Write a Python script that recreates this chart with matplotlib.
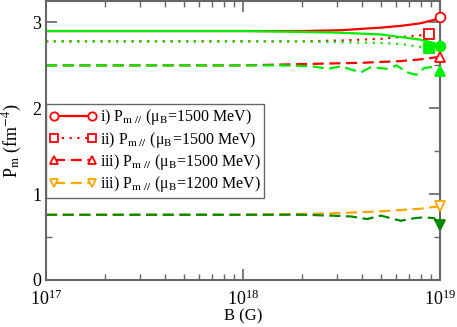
import numpy as np
import matplotlib
matplotlib.use('Agg')
import matplotlib.pyplot as plt

plt.rcParams['font.family'] = ['Liberation Serif', 'DejaVu Serif']
plt.rcParams['mathtext.fontset'] = 'stix'

# log10(B) sample points and P_m values
lb_smooth = [17.0, 17.5, 18.0, 18.3, 18.5, 18.7, 18.8, 18.9, 18.97, 19.0]
p_i_15 = [2.90, 2.90, 2.90, 2.90, 2.91, 2.94, 2.96, 2.99, 3.03, 3.06]
p_i_15g = [2.90, 2.90, 2.90, 2.89, 2.88, 2.86, 2.83, 2.80, 2.76, 2.73]

lb_ii = [17.0, 17.5, 18.0, 18.3, 18.5, 18.7, 18.8, 18.944]
p_ii_15 = [2.78, 2.78, 2.78, 2.78, 2.79, 2.81, 2.83, 2.86]
p_ii_15g = [2.78, 2.78, 2.78, 2.78, 2.77, 2.76, 2.75, 2.70]

lb_iii = [17.0, 17.5, 18.0, 18.2, 18.4, 18.6, 18.8, 18.9, 19.0]
p_iii_15 = [2.50, 2.50, 2.50, 2.51, 2.52, 2.53, 2.55, 2.57, 2.60]
lb_iii_g = [17.0, 17.5, 18.0, 18.2, 18.35, 18.43, 18.5, 18.55, 18.6, 18.65,
            18.73, 18.78, 18.83, 18.88, 18.92, 18.96, 19.0]
p_iii_15g = [2.50, 2.50, 2.50, 2.50, 2.49, 2.46, 2.49, 2.45, 2.42, 2.48,
             2.46, 2.50, 2.42, 2.39, 2.47, 2.48, 2.43]

lb_12 = [17.0, 17.5, 18.0, 18.3, 18.5, 18.7, 18.9, 19.0]
p_iii_12 = [0.76, 0.76, 0.76, 0.77, 0.78, 0.80, 0.83, 0.86]
lb_12g = [17.0, 17.5, 18.0, 18.3, 18.45, 18.55, 18.63, 18.7, 18.8, 18.87,
          18.92, 18.97, 19.0]
p_iii_12g = [0.76, 0.76, 0.76, 0.76, 0.75, 0.74, 0.71, 0.75, 0.69, 0.72,
             0.73, 0.72, 0.64]

legend_labels = ['i) P$_{\\rm m\\ //}$ (μ$_{\\rm B}$=1500 MeV)',
                 'ii) P$_{\\rm m\\ //}$ (μ$_{\\rm B}$=1500 MeV)',
                 'iii) P$_{\\rm m\\ //}$ (μ$_{\\rm B}$=1500 MeV)',
                 'iii) P$_{\\rm m\\ //}$ (μ$_{\\rm B}$=1200 MeV)']

red, green, dgreen, orange = '#ff0000', '#00ee00', '#008800', '#ffa500'
lw = 1.6
dash = (0, (5, 2.5))
dot = (0, (1, 2.5))

fig = plt.figure(figsize=(4.57, 3.27), dpi=100)
ax = fig.add_axes([46/457, 1 - 280/327, 394/457, 279/327])


def curve(lb, p, color, ls, marker, filled, label=None):
    B = 10.0 ** np.array(lb)
    ax.plot(B, p, color=color, ls=ls, lw=lw)
    fc = color if filled else 'white'
    ax.plot(B[-1:], p[-1:], ls='none', marker=marker, ms=7, mfc=fc,
            mec=color, mew=1.3, clip_on=False, zorder=4)
    if label:
        ax.plot([], [], color=color, ls=ls, lw=lw, marker=marker, ms=6,
                mfc='white', mec=color, mew=1.3, label=label)


# red/orange first, green curves on top of them
curve(lb_smooth, p_i_15, red, '-', 'o', False, legend_labels[0])
curve(lb_ii, p_ii_15, red, dot, 's', False, legend_labels[1])
curve(lb_iii, p_iii_15, red, dash, '^', False, legend_labels[2])
curve(lb_12, p_iii_12, orange, dash, 'v', False, legend_labels[3])

curve(lb_smooth, p_i_15g, green, '-', 'o', True)
curve(lb_ii, p_ii_15g, green, dot, 's', True)
curve(lb_iii_g, p_iii_15g, green, dash, '^', True)
curve(lb_12g, p_iii_12g, dgreen, dash, 'v', True)

ax.set_xscale('log')
ax.set_xlim(1e17, 1e19)
ax.set_ylim(0, 3.25)
ax.set_yticks([0, 1, 2, 3])
ax.set_yticks([0.5, 1.5, 2.5], minor=True)
ax.set_xlabel('B (G)', fontsize=12)
ax.xaxis.set_label_coords(0.5, -0.1)
ax.set_ylabel('P$_{\\rm m}$ (fm$^{-4}$)', fontsize=13, labelpad=6)

for s in ax.spines.values():
    s.set_color('0.4')
    s.set_linewidth(1.5)
ax.tick_params(which='both', direction='in', top=True, right=True,
               color='0.4', labelsize=13)
ax.tick_params(which='major', length=8, width=1.2)
ax.tick_params(which='minor', length=4, width=1.0)
ax.tick_params(axis='x', pad=7)

leg = ax.legend(loc='upper left', bbox_to_anchor=(0.0, 0.631), numpoints=2,
                fontsize=11.5, handlelength=3.0, handletextpad=0.15,
                borderaxespad=0, borderpad=0.2, labelspacing=0.15,
                fancybox=False, framealpha=1)
leg.get_frame().set_edgecolor('0.4')
leg.get_frame().set_linewidth(1.0)

fig.savefig('out.png', dpi=100)
